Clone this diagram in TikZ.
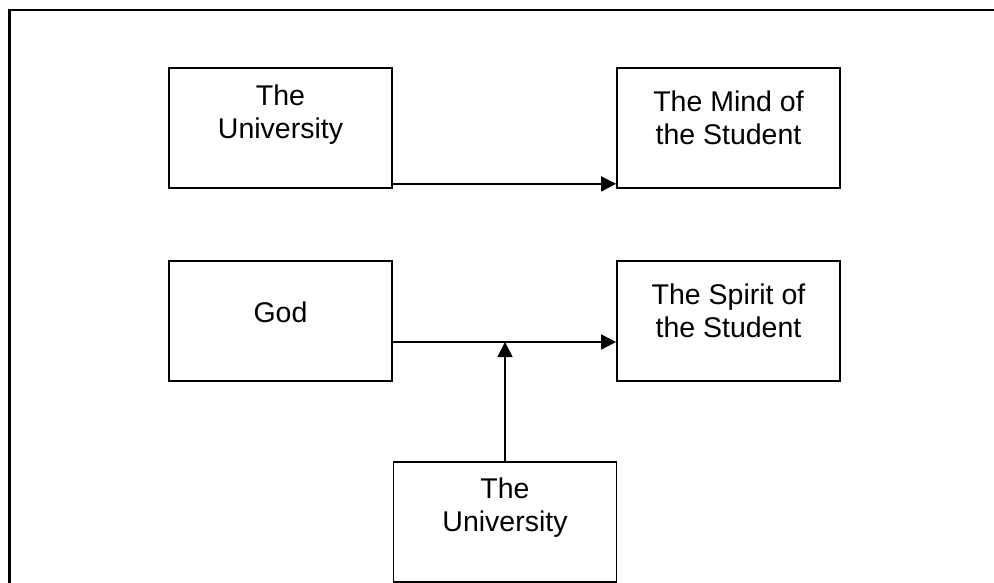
\documentclass[tikz,border=0pt]{standalone}
\usepackage{fontspec}
\setmainfont{Liberation Sans}
\usetikzlibrary{arrows.meta,positioning}
\tikzset{
  box/.style={draw, line width=1.8pt, minimum width=223pt, minimum height=120pt, inner sep=0pt},
  boxtext/.style={align=center, inner sep=0pt, font=\fontsize{28.5}{33}\selectfont},
  flow/.style={line width=1.8pt, -{Triangle[length=15pt,width=15pt]}}
}
\begin{document}
\begin{tikzpicture}[x=1pt,y=-1pt]
\useasboundingbox (0,0) rectangle (994,583);
% outer frame, only the top and left edges show
\coordinate (fbl) at (9.5,590);
\coordinate (ftl) at (9.5,10.2);
\coordinate (ftr) at (1000,10.2);
\draw[line width=2.2pt] (fbl) -- (ftl) -- (ftr);
\node[box] (uni) at (280.5,128) {};
\node[box] (mind) at (728.5,128) {};
\node[box] (god) at (280.5,321) {};
\node[box] (spirit) at (728.5,321) {};
\node[box] (uni2) at (505,522) {};
\node[boxtext, below=17.5pt of uni.north] (unitext) {The\\University};
\node[boxtext, below=24pt of mind.north] (mindtext) {The Mind of\\the Student};
\node[boxtext, below=42pt of god.north] (godtext) {God};
\node[boxtext, below=24pt of spirit.north] (spirittext) {The Spirit of\\the Student};
\node[boxtext, below=17pt of uni2.north] (uni2text) {The\\University};
\draw[flow] ([yshift=5pt]uni.south east) -- ([yshift=5pt]mind.south west);
\coordinate (godout) at ([yshift=-21pt]god.east);
\draw[flow] (godout) -- (godout -| spirit.west);
\draw[flow] (uni2.north) -- (uni2.north |- godout);
\end{tikzpicture}
\end{document}
